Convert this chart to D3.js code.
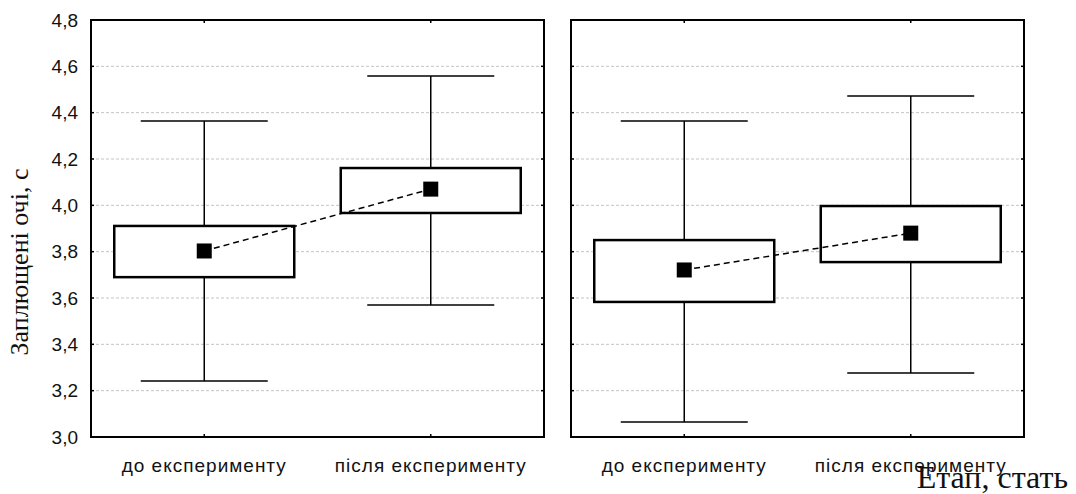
<!DOCTYPE html>
<html>
<head>
<meta charset="utf-8">
<script src="https://cdn.jsdelivr.net/npm/d3@7"></script>
<style>
  body { margin: 0; background: #fff; }
  svg { display: block; }
</style>
</head>
<body>
<svg id="chart" width="1076" height="494"></svg>
<script>
const categories = ["до експерименту", "після експерименту"];
const yTicks = [3.0, 3.2, 3.4, 3.6, 3.8, 4.0, 4.2, 4.4, 4.6, 4.8];

// one entry per panel, one value per category
const means      = [[3.803, 4.070], [3.721, 3.880]];
const boxTop     = [[3.911, 4.161], [3.850, 3.997]];
const boxBottom  = [[3.690, 3.967], [3.583, 3.755]];
const whiskerTop = [[4.364, 4.558], [4.364, 4.472]];
const whiskerBot = [[3.242, 3.570], [3.065, 3.276]];

const yLabel = "Заплющені очі, с";
const xLabel = "Етап, стать";

const svg = d3.select('#chart');

const panelTop = 20, panelBottom = 437;
const panelX = [[91, 544], [571, 1024]];
const boxWidth = 180, capWidth = 127, markerSize = 15;

const y = d3.scaleLinear().domain([3.0, 4.8]).range([panelBottom, panelTop]);

const fmt = d => d.toFixed(1).replace('.', ',');

panelX.forEach((px, p) => {
  const x = d3.scalePoint().domain(categories).range(px).padding(0.5);
  const g = svg.append('g');

  // grid
  g.selectAll('line.grid')
    .data(yTicks.slice(1, -1)).enter().append('line')
    .attr('x1', px[0]).attr('x2', px[1])
    .attr('y1', d => y(d)).attr('y2', d => y(d))
    .attr('stroke', '#c4c4c4')
    .attr('stroke-width', 1)
    .attr('stroke-dasharray', '3,2');

  // ticks inward on both sides
  g.selectAll('line.tl')
    .data(yTicks).enter().append('line')
    .attr('x1', px[0]).attr('x2', px[0] + 3)
    .attr('y1', d => y(d)).attr('y2', d => y(d))
    .attr('stroke', 'black').attr('stroke-width', 1.5);
  g.selectAll('line.tr')
    .data(yTicks).enter().append('line')
    .attr('x1', px[1]).attr('x2', px[1] - 3)
    .attr('y1', d => y(d)).attr('y2', d => y(d))
    .attr('stroke', 'black').attr('stroke-width', 1.5);
  g.selectAll('line.tb')
    .data(categories).enter().append('line')
    .attr('x1', d => x(d)).attr('x2', d => x(d))
    .attr('y1', panelBottom).attr('y2', panelBottom - 3)
    .attr('stroke', 'black').attr('stroke-width', 1.5);
  g.selectAll('line.tt')
    .data(categories).enter().append('line')
    .attr('x1', d => x(d)).attr('x2', d => x(d))
    .attr('y1', panelTop).attr('y2', panelTop + 3)
    .attr('stroke', 'black').attr('stroke-width', 1.5);

  const items = categories.map((c, i) => ({
    c, m: means[p][i], bt: boxTop[p][i], bb: boxBottom[p][i],
    wt: whiskerTop[p][i], wb: whiskerBot[p][i]
  }));

  // whiskers
  g.selectAll('line.wv')
    .data(items).enter().append('line')
    .attr('x1', d => x(d.c)).attr('x2', d => x(d.c))
    .attr('y1', d => y(d.wt)).attr('y2', d => y(d.wb))
    .attr('stroke', 'black').attr('stroke-width', 1.5);
  ['wt', 'wb'].forEach(k => {
    g.selectAll('line.cap' + k)
      .data(items).enter().append('line')
      .attr('x1', d => x(d.c) - capWidth / 2).attr('x2', d => x(d.c) + capWidth / 2)
      .attr('y1', d => y(d[k])).attr('y2', d => y(d[k]))
      .attr('stroke', 'black').attr('stroke-width', 1.5);
  });

  // boxes
  g.selectAll('rect.box')
    .data(items).enter().append('rect')
    .attr('x', d => x(d.c) - boxWidth / 2)
    .attr('width', boxWidth)
    .attr('y', d => y(d.bt))
    .attr('height', d => y(d.bb) - y(d.bt))
    .attr('fill', 'white')
    .attr('stroke', 'black').attr('stroke-width', 2.5);

  // mean line
  g.append('path')
    .attr('d', d3.line().x(d => x(d.c)).y(d => y(d.m))(items))
    .attr('fill', 'none')
    .attr('stroke', 'black').attr('stroke-width', 1.5)
    .attr('stroke-dasharray', '6,4');

  g.selectAll('rect.mean')
    .data(items).enter().append('rect')
    .attr('x', d => x(d.c) - markerSize / 2)
    .attr('y', d => y(d.m) - markerSize / 2)
    .attr('width', markerSize).attr('height', markerSize)
    .attr('fill', 'black');

  // frame
  g.append('rect')
    .attr('x', px[0]).attr('y', panelTop)
    .attr('width', px[1] - px[0]).attr('height', panelBottom - panelTop)
    .attr('fill', 'none')
    .attr('stroke', 'black').attr('stroke-width', 2);

  // category labels
  g.selectAll('text.cat')
    .data(categories).enter().append('text')
    .text(d => d)
    .attr('x', d => x(d)).attr('y', 472)
    .attr('text-anchor', 'middle')
    .attr('font-family', '"Liberation Sans", Arial, sans-serif')
    .attr('font-size', '19px')
    .attr('letter-spacing', '1px')
    .attr('fill', '#111');
});

// y tick labels
svg.selectAll('text.ytick')
  .data(yTicks).enter().append('text')
  .text(fmt)
  .attr('x', 78).attr('y', d => y(d))
  .attr('text-anchor', 'end')
  .attr('dominant-baseline', 'central')
  .attr('font-family', '"Liberation Sans", Arial, sans-serif')
  .attr('font-size', '19px')
  .attr('fill', '#111');

svg.append('text')
  .text(yLabel)
  .attr('transform', `translate(28, 262) rotate(-90)`)
  .attr('text-anchor', 'middle')
  .attr('font-family', '"Liberation Serif", "Times New Roman", serif')
  .attr('font-size', '26px')
  .attr('fill', '#111');

svg.append('text')
  .text(xLabel)
  .attr('x', 1068).attr('y', 488)
  .attr('text-anchor', 'end')
  .attr('font-family', '"Liberation Serif", "Times New Roman", serif')
  .attr('font-size', '32px')
  .attr('fill', '#111');
</script>
</body>
</html>
